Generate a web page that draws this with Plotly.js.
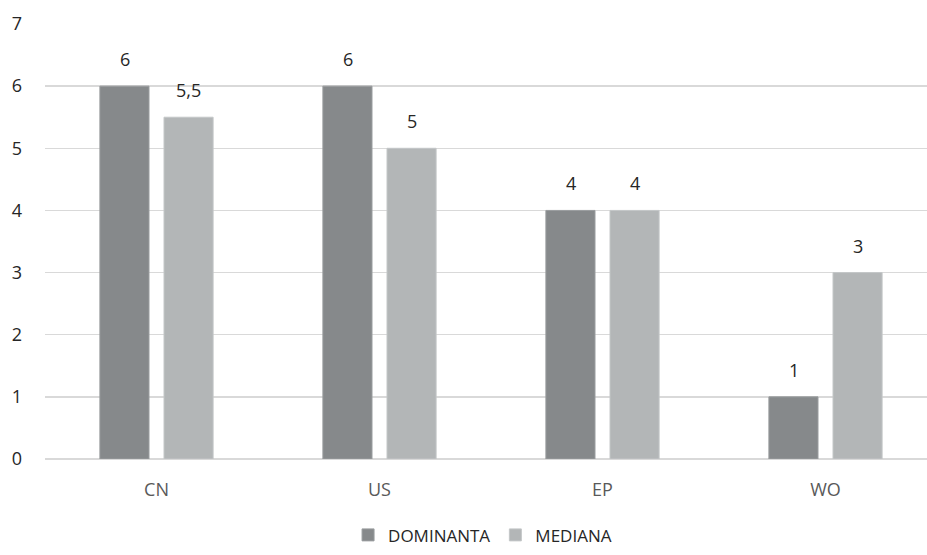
<!DOCTYPE html>
<html><head><meta charset="utf-8">
<script src="https://cdn.plot.ly/plotly-3.0.1.min.js"></script>
<style>html,body{margin:0;padding:0;overflow:hidden;background:#fff}</style>
</head><body><div id="chart" style="width:937px;height:555px"></div>
<script>
const categories = ['CN', 'US', 'EP', 'WO'];
const dominanta = [6, 6, 4, 1];
const mediana = [5.5, 5, 4, 3];
const seriesNames = ['DOMINANTA', 'MEDIANA'];
const yTicks = [0, 1, 2, 3, 4, 5, 6, 7];

const fontFam = '"Open Sans", "Noto Sans", sans-serif';
const fmt = v => String(v).replace('.', ',');

const traces = [
  {type:'bar', name:seriesNames[0], x:categories, y:dominanta,
   marker:{color:'#86898b', line:{color:'#9a9d9f', width:1}}, hoverinfo:'none'},
  {type:'bar', name:seriesNames[1], x:categories, y:mediana,
   marker:{color:'#b3b6b7', line:{color:'#c4c7c8', width:1}}, hoverinfo:'none'}
];

const annotations = [];
categories.forEach((c, i) => {
  [dominanta, mediana].forEach((arr, k) => {
    annotations.push({x:c, y:arr[i], xref:'x', yref:'y', text:fmt(arr[i]),
      showarrow:false, yanchor:'bottom', yshift:13,
      xshift: k === 0 ? -32 : 32,
      font:{family:fontFam, size:18, color:'#262626'}});
  });
});

const layout = {
  width:937, height:555,
  margin:{l:45, r:0, t:24, b:96},
  paper_bgcolor:'#fff', plot_bgcolor:'#fff',
  barmode:'group', bargap:0.425, bargroupgap:0.234,
  font:{family:fontFam, size:18, color:'#404040'},
  showlegend:true,
  legend:{orientation:'h', x:0.515, xanchor:'center', xref:'container', yref:'container', y:0.003, yanchor:'bottom',
    font:{family:fontFam, size:17, color:'#262626'}, itemwidth:30, traceorder:'normal', borderwidth:0},
  xaxis:{type:'category', showgrid:false, zeroline:false, showline:false, ticks:'',
    ticklabelstandoff:18, tickfont:{family:fontFam, size:18, color:'#595959'}},
  yaxis:{range:[0,7], tickvals:yTicks, showgrid:true, gridcolor:'#d9d9d9', gridwidth:1.5,
    zeroline:true, zerolinecolor:'#d9d9d9', zerolinewidth:1.5, showline:false, ticks:'',
    ticklabelstandoff:22, tickfont:{family:fontFam, size:18, color:'#262626'}},
  annotations:annotations
};

Plotly.newPlot('chart', traces, layout, {displayModeBar:false, staticPlot:true});
</script></body></html>
